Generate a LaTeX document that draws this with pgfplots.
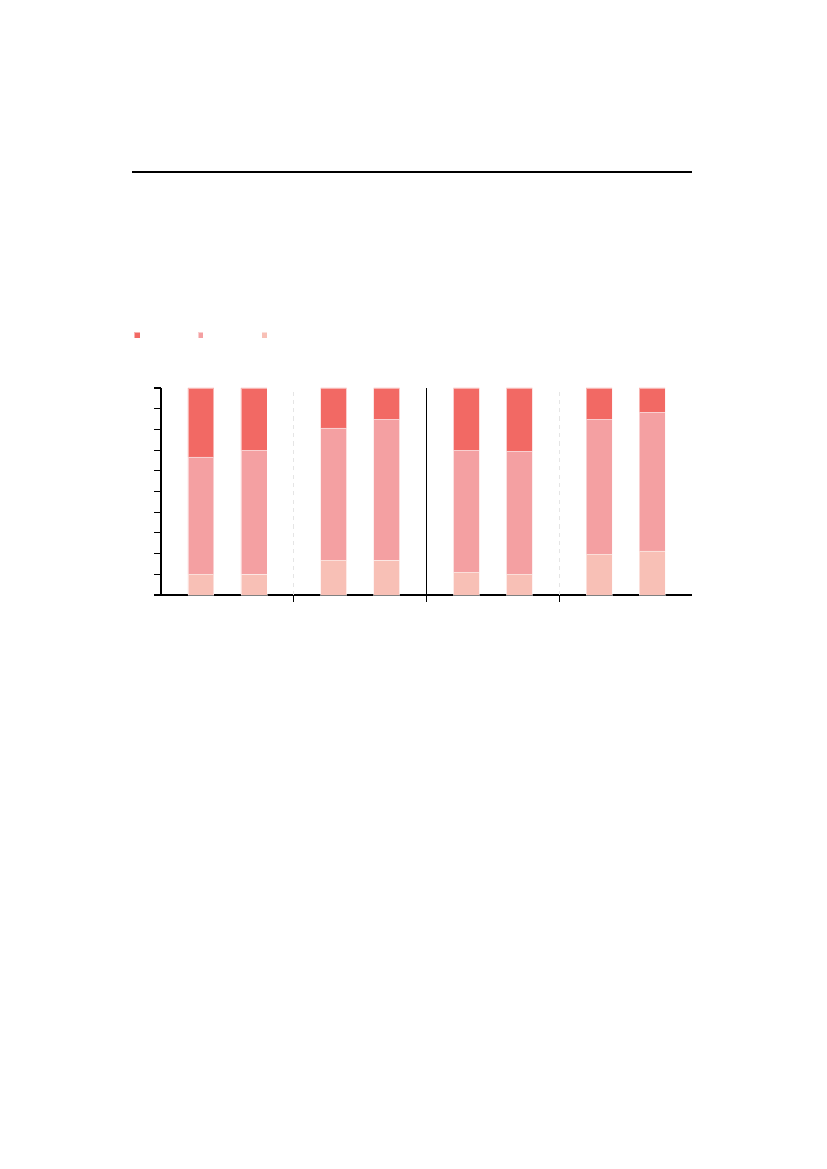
\documentclass[border=0pt]{standalone}
\usepackage{pgfplots}
\pgfplotsset{compat=1.18}
\usepackage{pgfplotstable}

\definecolor{cTop}{RGB}{242,105,100}
\definecolor{cMid}{RGB}{244,160,162}
\definecolor{cLow}{RGB}{248,192,182}

% x = bar position, b = lower share, m = middle share, t = upper share
\pgfplotstableread{
x   b     m     t
0.3 0.101 0.566 0.333
0.7 0.100 0.600 0.300
1.3 0.169 0.638 0.193
1.7 0.167 0.683 0.150
2.3 0.111 0.589 0.300
2.7 0.101 0.594 0.305
3.3 0.198 0.652 0.150
3.7 0.213 0.671 0.116
}\shares

\begin{document}
\begin{tikzpicture}[x=0.7227pt,y=0.7227pt]
\useasboundingbox (0,0) rectangle (827,1169);
\draw[line width=1.45pt] (132,997) -- (692,997);
\begin{axis}[
  at={(116.35pt,414.83pt)}, anchor=south west,
  scale only axis, width=383.75pt, height=149.6pt,
  xmin=0, xmax=4, ymin=0, ymax=1,
  axis x line*=bottom, axis y line*=left,
  axis line style={line width=1pt},
  xtick={1,2,3}, xticklabels={},
  ytick={0,0.1,0.2,0.3,0.4,0.5,0.6,0.7,0.8,0.9,1}, yticklabels={},
  tick align=outside, major tick length=5pt,
  tick style={black, line width=0.8pt},
  ybar stacked, bar width=0.195,
  clip=false,
  reverse legend,
  legend columns=3,
  legend image code/.code={\fill[#1] (0pt,-2pt) rectangle (4pt,2pt);},
  legend style={draw=none, fill=none, at={(-0.0508,1.255)}, anchor=west,
    inner sep=0pt, outer sep=0pt, nodes={inner sep=0pt},
    /tikz/every even column/.style={column sep=0pt},
    /tikz/every odd column/.style={column sep=0pt}},
]
\addplot[fill=cLow, draw=white, draw opacity=0.5, line width=0.4pt] table[x=x,y=b]{\shares};
\addlegendentry{\hbox to 41.6pt{}}
\addplot[fill=cMid, draw=white, draw opacity=0.5, line width=0.4pt] table[x=x,y=m]{\shares};
\addlegendentry{\hbox to 41.6pt{}}
\addplot[fill=cTop, draw=white, draw opacity=0.5, line width=0.4pt] table[x=x,y=t]{\shares};
\addlegendentry{\hbox to 41.6pt{}}
\draw[gray!20, dashed, line width=0.5pt] (axis cs:1,0) -- (axis cs:1,0.99);
\draw[gray!20, dashed, line width=0.5pt] (axis cs:3,0) -- (axis cs:3,0.99);
\draw[black, line width=0.7pt] (axis cs:2,0) -- (axis cs:2,1);
\end{axis}
\end{tikzpicture}
\end{document}
